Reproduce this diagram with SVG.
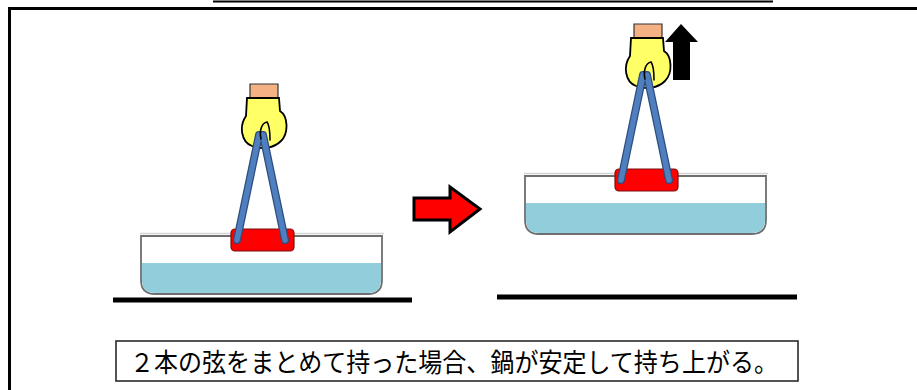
<svg xmlns="http://www.w3.org/2000/svg" width="917" height="390" viewBox="0 0 917 390">
  <defs>
    <style>
      .frame { fill: none; stroke: #000; stroke-width: 3; }
      .ground { stroke: #000; stroke-width: 5; }
      .pot-body { fill: #fff; stroke: #6e6e6e; stroke-width: 1.8; }
      .water { fill: #92cddc; }
      .rim { stroke: #d4d4d4; stroke-width: 1.5; }
      .handle { fill: #ff0000; stroke: #7a1010; stroke-width: 1.2; }
      .strap-edge { stroke: #2f4c7c; stroke-width: 8; stroke-linecap: round; }
      .strap { stroke: #4f7fbf; stroke-width: 5.5; stroke-linecap: round; }
      .cuff { fill: #f4b183; stroke: #333; stroke-width: 1.2; }
      .glove { fill: #ffff66; stroke: #000; stroke-width: 1.8; }
      .thumb { fill: none; stroke: #000; stroke-width: 1.6; stroke-linecap: round; }
      .caption { fill: #fff; stroke: #2a2a2a; stroke-width: 1.6; }
      .caption-text { font-family: "Noto Sans CJK JP", "Noto Sans", sans-serif; font-size: 26px; fill: #000; }
    </style>
    <!-- pot with a two-strap handle held in a gloved hand -->
    <g id="pot-assembly">
      <line class="rim" x1="140" y1="233.5" x2="384" y2="233.5"/>
      <path class="pot-body" d="M141,236 H382 V280 Q382,294 368,294 H155 Q141,294 141,280 Z"/>
      <path class="water" d="M142,263 H381 V280 Q381,293 368,293 H155 Q142,293 142,280 Z"/>
      <rect class="handle" x="231" y="229" width="63" height="22" rx="4"/>
      <path class="cuff" d="M250,84 H278 V98.5 H250 Z"/>
      <path class="glove" d="M247,98 H279 L280,111 C288,116 289,133 281,141 C274,148 262,150 252,146 C241,142 239,126 246,116 Z"/>
      <line class="strap-edge" x1="237" y1="240" x2="259" y2="135"/>
      <line class="strap-edge" x1="285" y1="240" x2="263" y2="135"/>
      <line class="strap" x1="237" y1="240" x2="259" y2="135"/>
      <line class="strap" x1="285" y1="240" x2="263" y2="135"/>
      <path class="thumb" d="M261,139 C259,130 262,123 267,122 C270,126 270,133 270,140"/>
    </g>
  </defs>

  <!-- page frame and top rule -->
  <path class="frame" d="M9.5,390 V8.5 H917"/>
  <line x1="213" y1="1.5" x2="773" y2="1.5" stroke="#000" stroke-width="2"/>

  <g id="ground-left"><line class="ground" x1="113" y1="300" x2="412" y2="300"/></g>
  <g id="ground-right"><line class="ground" x1="497" y1="297" x2="797" y2="297"/></g>

  <g id="pot-resting"><use href="#pot-assembly"/></g>
  <g id="pot-lifted"><use href="#pot-assembly" transform="translate(384,-60)"/></g>

  <g id="lift-arrow">
    <polygon points="681,24 698,42 690,42 690,80 673,80 673,42 665,42" fill="#000"/>
  </g>

  <g id="connectors">
    <polygon points="414,198 450,198 450,187 480,209 450,232 450,220 414,220" fill="#ff0000" stroke="#000" stroke-width="3" stroke-linejoin="miter"/>
  </g>

  <g id="caption">
    <rect class="caption" x="116" y="341" width="682" height="40"/>
    <text class="caption-text" x="130" y="372" textLength="648" lengthAdjust="spacingAndGlyphs">２本の弦をまとめて持った場合、鍋が安定して持ち上がる。</text>
  </g>
</svg>
